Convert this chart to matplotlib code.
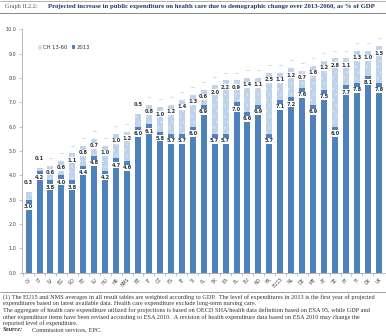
import matplotlib
matplotlib.use("Agg")
import matplotlib.pyplot as plt
import numpy as np
from matplotlib.patches import Patch

countries = ["CY", "LT", "LV", "BG", "RO", "EE", "LU", "HU", "HR", "NMS",
             "BE", "IT", "CZ", "ES", "IE", "SI", "PL", "SK", "EA", "EL",
             "EU", "NO", "FR", "EU15", "NL", "DE", "MT", "AT", "SE", "PT",
             "FI", "DK", "UK"]
level_2013 = [3.0, 4.2, 3.8, 4.0, 3.8, 4.4, 4.8, 4.2, 4.7, 4.6,
              6.0, 6.1, 5.8, 5.7, 5.7, 6.0, 6.9, 5.7, 5.7, 7.0,
              6.6, 6.9, 5.7, 7.1, 7.2, 7.6, 6.9, 7.5, 6.0, 7.7,
              7.8, 8.1, 7.8]
change_13_60 = [0.3, 0.1, 0.6, 0.6, 1.1, 0.8, 0.7, 1.0, 1.0, 1.2,
                0.5, 0.8, 1.0, 1.2, 1.4, 1.3, 0.6, 2.0, 2.2, 0.9,
                1.4, 1.1, 2.5, 1.1, 1.2, 0.7, 1.6, 1.2, 2.8, 1.1,
                1.3, 1.0, 1.5]

dark = "#4f81bd"
light = "#bed2ea"
plt.rcParams["hatch.linewidth"] = 0.4

fig = plt.figure(figsize=(3.86, 3.36), dpi=100)
ax = fig.add_axes([0.057, 0.188, 0.94, 0.725])

x = np.arange(len(countries))
base = np.array(level_2013)
chg = np.array(change_13_60)
ax.bar(x, base, width=0.55, color=dark, linewidth=0)
ax.bar(x, chg, bottom=base, width=0.55, color=light, edgecolor="#e4edf8",
       hatch="...", linewidth=0)

box = dict(boxstyle="square,pad=0.1", fc="white", ec="none")
for i in range(len(x)):
    ax.text(x[i], base[i] - 0.28, f"{base[i]:.1f}", ha="center", va="center",
            fontsize=3.7, fontweight="bold", color="#333333", bbox=box)
    top = base[i] + chg[i]
    ty = top - 0.28 if chg[i] >= 0.6 else top + 0.4
    ax.text(x[i], ty, f"{chg[i]:.1f}", ha="center", va="center",
            fontsize=3.7, fontweight="bold", color="#333333", bbox=box)
    ax.plot([x[i] - 0.12, x[i] + 0.12], [top + 0.32, top + 0.32],
            color="#c8c8c8", lw=0.5)

ax.set_ylim(0, 10)
ax.set_xlim(-0.6, len(x) - 0.45)
ax.set_yticks(np.arange(0, 10.5, 1.0))
ax.set_yticklabels([f"{v:.1f}" for v in np.arange(0, 10.5, 1.0)],
                   fontsize=3.5, color="#444444")
ax.set_xticks(x - 0.5, minor=True)
ax.set_xticks(x)
ax.set_xticklabels(countries, rotation=45, ha="right", rotation_mode="anchor",
                   fontsize=3.3, color="#444444")
ax.tick_params(axis="x", which="major", length=0, pad=3)
ax.tick_params(axis="x", which="minor", length=2, color="#999999", width=0.4)
ax.tick_params(axis="y", length=2, color="#999999", width=0.4, pad=2)
for s in ["top", "right"]:
    ax.spines[s].set_visible(False)
for s in ["left", "bottom"]:
    ax.spines[s].set_color("#999999")
    ax.spines[s].set_linewidth(0.5)

handles = [Patch(facecolor=light, edgecolor="#e4edf8", hatch="..."),
           Patch(facecolor=dark)]
ax.legend(handles, ["CH 13-60", "2013"], loc="upper left",
          bbox_to_anchor=(0.03, 0.955), ncol=2, frameon=False, fontsize=3.8,
          handlelength=0.7, handleheight=0.7, handletextpad=0.3,
          columnspacing=0.8, labelcolor="#333333")

# title block
fig.add_artist(plt.Line2D([0.0, 1.0], [0.998, 0.998], color="#777777", lw=0.4))
fig.text(0.013, 0.988, "Graph II.2.2:", fontsize=4.5, color="#555555",
         family="Liberation Serif", va="top")
fig.text(0.125, 0.988, "Projected increase in public expenditure on health care "
         "due to demographic change over 2013-2060, as % of GDP",
         fontsize=4.85, color="#1f3864", fontweight="bold",
         family="Liberation Serif", va="top")
fig.add_artist(plt.Line2D([0.0, 1.0], [0.96, 0.96], color="#555555", lw=0.5))

# footnotes
fig.add_artist(plt.Line2D([0.0, 1.0], [0.13, 0.13], color="#555555", lw=0.4))
notes = [
    "(1) The EU15 and NMS averages in all result tables are weighted according to GDP.  "
    "The level of expenditures in 2013 is the first year of projected",
    "expenditures based on latest available data. Health care expenditure exclude "
    "long-term nursing care.",
    "The aggregate of health care expenditure utilized for projections is based on "
    "OECD SHA/health data definition based on ESA 95, while GDP and",
    "other expenditure items have been revised according to ESA 2010.  A revision of "
    "health expenditure data based on ESA 2010 may change the",
    "reported level of expenditure.",
]
y0 = 0.124
dy = 0.0195
for k, line in enumerate(notes):
    fig.text(0.008, y0 - k * dy, line, fontsize=4.5, color="#333333",
             family="Liberation Serif", va="top")
fig.text(0.008, y0 - 5 * dy, "Source:", fontsize=4.5, color="#333333",
         family="Liberation Serif", fontweight="bold", style="italic", va="top")
fig.text(0.082, y0 - 5 * dy, "Commission services, EPC.", fontsize=4.5,
         color="#333333", family="Liberation Serif", va="top")

fig.savefig("out.png", dpi=100)
